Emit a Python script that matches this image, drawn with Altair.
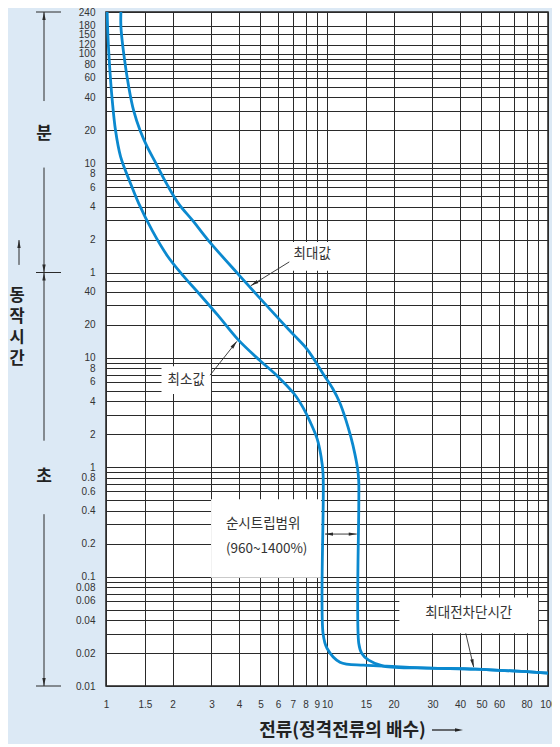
import math
import altair as alt
import pandas as pd

# ---------------- chart values ----------------
# x axis: multiples of rated current (log scale)
X_GRID = [1, 1.5, 2, 3, 4, 5, 6, 7, 8, 9, 10, 15, 20, 30, 40, 50, 60, 70, 80, 90, 100]
X_LABEL_VALUES = [1, 1.5, 2, 3, 4, 5, 6, 7, 8, 9, 10, 15, 20, 30, 40, 50, 60, 80, 100]
X_LABEL_TEXT = ["1", "1.5", "2", "3", "4", "5", "6", "7", "8", "9", "10",
                "15", "20", "30", "40", "50", "60", "80", "100"]

# y axis: operating time in seconds (log scale), labelled in minutes above 1 min
Y_GRID_SEC = [0.01, 0.02, 0.03, 0.04, 0.05, 0.06, 0.07, 0.08, 0.09,
              0.1, 0.2, 0.3, 0.4, 0.5, 0.6, 0.7, 0.8, 0.9,
              1, 2, 3, 4, 5, 6, 7, 8, 9,
              10, 20, 30, 40, 50,
              60, 120, 180, 240, 300, 360, 420, 480, 540,
              600, 1200, 1800, 2400, 3000, 3600, 4200, 4800, 5400,
              6000, 7200, 9000, 10800, 14400]
Y_LABEL_SEC = [14400, 10800, 9000, 7200, 6000, 4800, 3600, 2400, 1200, 600,
               480, 360, 240, 120, 60,
               40, 20, 10, 8, 6, 4, 2, 1, 0.8, 0.6, 0.4, 0.2,
               0.1, 0.08, 0.06, 0.04, 0.02, 0.01]
Y_LABEL_TEXT = ["240", "180", "150", "120", "100", "80", "60", "40", "20", "10",
                "8", "6", "4", "2", "1",
                "40", "20", "10", "8", "6", "4", "2", "1", "0.8", "0.6", "0.4", "0.2",
                "0.1", "0.08", "0.06", "0.04", "0.02", "0.01"]

# maximum curve (최대값): current multiple, time [s]
MAX_X = [1.168, 1.168, 1.204, 1.268, 1.335, 1.428, 1.535, 1.685, 1.877, 2.125,
         2.481, 2.896, 3.990, 6.155, 7.112, 8.135, 9.695, 10.64, 11.44, 12.17,
         12.81, 13.36, 13.77, 13.92, 13.92, 14.35, 15.43, 18.02, 28.96, 47.07, 100]
MAX_T = [14400, 10600, 5906, 2964, 1795, 1182, 846, 593, 391, 257,
         176.5, 118.7, 57.1, 21.8, 15.97, 11.92, 6.92, 5.168, 3.857, 2.704,
         1.895, 1.329, 0.951, 0.740, 0.02456, 0.01993, 0.01722, 0.01519, 0.01457, 0.01427, 0.01312]

# minimum curve (최소값)
MIN_X = [1.012, 1.021, 1.042, 1.064, 1.105, 1.164, 1.291, 1.406, 1.624, 1.897,
         2.237, 2.639, 3.212, 3.949, 4.955, 5.968, 7.112, 7.805, 8.391, 9.020,
         9.400, 9.596, 9.596, 10.0, 11.44, 14.65, 18.58, 28.96, 47.07, 100]
MIN_T = [14400, 8427, 4141, 2405, 1182, 687, 391, 257, 143.2, 85.0,
         55.9, 38.4, 24.3, 14.69, 9.47, 6.78, 4.655, 3.474, 2.59, 1.818,
         1.248, 0.875, 0.0303, 0.02213, 0.01651, 0.0155, 0.01519, 0.01457, 0.01427, 0.01312]

# ---------------- layout / style ----------------
W, H = 442, 674
BG = "#dce9f5"
BLUE = "#0b89cf"
DARK = "#2a2a2a"
X_DOMAIN = [1, 100]
Y_DOMAIN = [0.01, 14400]
PX_X = W / math.log10(X_DOMAIN[1] / X_DOMAIN[0])
PX_Y = H / math.log10(Y_DOMAIN[1] / Y_DOMAIN[0])

UP_HEAD = "M0,0L-0.42,2L0.42,2Z"      # tip at origin, body below
DOWN_HEAD = "M0,0L-0.42,-2L0.42,-2Z"  # tip at origin, body above


def head_angle(x1, t1, x2, t2):
    dx = (math.log10(x2) - math.log10(x1)) * PX_X
    dy = -(math.log10(t2) - math.log10(t1)) * PX_Y
    return math.degrees(math.atan2(dx, -dy)) % 360


def label_expr(values, texts):
    expr = "''"
    for v, t in reversed(list(zip(values, texts))):
        expr = f"datum.value == {v} ? '{t}' : ({expr})"
    return expr


x_scale = alt.Scale(type="log", domain=X_DOMAIN, nice=False)
y_scale = alt.Scale(type="log", domain=Y_DOMAIN, nice=False)

x_axis = alt.Axis(values=X_GRID, labelExpr=label_expr(X_LABEL_VALUES, X_LABEL_TEXT),
                  grid=True, gridColor=DARK, gridWidth=1, gridOpacity=1, ticks=False, domain=False,
                  labelPadding=13, labelFont="Liberation Sans", labelFontSize=10,
                  labelColor="#333333", labelFlush=False, labelOverlap=False, labelBound=False,
                  title="전류(정격전류의 배수)", titleFont="Noto Sans CJK KR",
                  titleFontSize=18, titleFontWeight="bold", titleColor="#222222",
                  titleX=236, titleY=44, titleAlign="center", titleBaseline="middle")
y_axis = alt.Axis(values=Y_GRID_SEC, labelExpr=label_expr(Y_LABEL_SEC, Y_LABEL_TEXT),
                  grid=True, gridColor=DARK, gridWidth=1, gridOpacity=1, ticks=False, domain=False,
                  labelPadding=11, labelFont="Liberation Sans", labelFontSize=10,
                  labelColor="#333333", labelFlush=False, labelOverlap=False, labelBound=False,
                  title=None)

# ---------------- curves ----------------
rows = []
for name, xs, ts in [("최대값", MAX_X, MAX_T), ("최소값", MIN_X, MIN_T)]:
    for i, (xv, tv) in enumerate(zip(xs, ts)):
        rows.append({"series": name, "i": i, "x": xv, "t": tv})
curves = pd.DataFrame(rows)

curve_layer = alt.Chart(curves).mark_line(
    interpolate="catmull-rom", strokeWidth=2.8, color=BLUE, strokeJoin="round"
).encode(
    x=alt.X("x:Q", scale=x_scale, axis=x_axis),
    y=alt.Y("t:Q", scale=y_scale, axis=y_axis),
    detail="series:N",
    order="i:Q",
)

# ---------------- annotations (white boxes, texts, arrows) ----------------
boxes = pd.DataFrame({
    "x": [6.15, 1.783, 2.988, 21.25],
    "x2": [12.29, 2.988, 9.40, 90.2],
    "t": [113.8, 8.36, 0.508, 0.0642],
    "t2": [62.1, 4.66, 0.0975, 0.0303],
})
box_layer = alt.Chart(boxes).mark_rect(color="white").encode(
    x="x:Q", x2="x2:Q", y="t:Q", y2="t2:Q")

notes = pd.DataFrame({
    "x": [8.57, 2.307, 43.8],
    "t": [88.5, 6.24, 0.0460],
    "label": ["최대값", "최소값", "최대전차단시간"],
})
note_layer = alt.Chart(notes).mark_text(
    font="Noto Sans CJK KR", fontSize=13.5, color="#333333", align="center", baseline="middle"
).encode(x="x:Q", y="t:Q", text="label:N")

trip = pd.DataFrame({"x": [3.488], "t": [0.301], "label": ["순시트립범위\n(960~1400%)"]})
trip_layer = alt.Chart(trip).mark_text(
    font="Noto Sans CJK KR", fontSize=13.5, color="#333333", align="left",
    baseline="middle", lineBreak="\n", lineHeight=25
).encode(x="x:Q", y="t:Q", text="label:N")

arrows = pd.DataFrame({
    "x": [6.75, 2.957, 42.45, 9.795],
    "t": [75.0, 6.92, 0.0303, 0.2445],
    "x2": [4.52, 3.91, 46.1, 13.63],
    "t2": [45.4, 14.09, 0.01487, 0.2445],
})
arrow_layer = alt.Chart(arrows).mark_rule(color=DARK, strokeWidth=0.9).encode(
    x="x:Q", x2="x2:Q", y="t:Q", y2="t2:Q")

heads = pd.DataFrame({
    "x": [4.52, 3.91, 46.1, 9.795, 13.63],
    "t": [45.4, 14.09, 0.01487, 0.2445, 0.2445],
    "ang": [head_angle(6.75, 75.0, 4.52, 45.4),
            head_angle(2.957, 6.92, 3.91, 14.09),
            head_angle(42.45, 0.0303, 46.1, 0.01487),
            270.0, 90.0],
})
head_layer = alt.Chart(heads).mark_point(
    shape=UP_HEAD, filled=True, size=64, color=DARK, opacity=1, strokeWidth=0
).encode(x="x:Q", y="t:Q", angle=alt.Angle("ang:Q", scale=None))

# arrow after the x-axis title
title_arrow = alt.Chart(pd.DataFrame({"k": [0]})).mark_rule(color="#222222", strokeWidth=1.3).encode(
    x=alt.value(326), x2=alt.value(352), y=alt.value(H + 44))
title_head = alt.Chart(pd.DataFrame({"k": [0]})).mark_point(
    shape=UP_HEAD, filled=True, size=64, color="#222222", opacity=1, strokeWidth=0, angle=90
).encode(x=alt.value(357), y=alt.value(H + 44))

# ---------------- left side: 분 / 초 scale marker ----------------
left_seg = pd.DataFrame({"t": [14400, 545.6, 60, 0.3713], "t2": [2212, 60, 1.743, 0.01]})
left_seg_layer = alt.Chart(left_seg).mark_rule(color=DARK, strokeWidth=1).encode(
    x=alt.value(-62), y="t:Q", y2="t2:Q")

left_bars = pd.DataFrame({"t": [14400, 60, 0.01]})
left_bar_layer = alt.Chart(left_bars).mark_rule(color=DARK, strokeWidth=1).encode(
    x=alt.value(-70), x2=alt.value(-45), y="t:Q")

up_tips = pd.DataFrame({"t": [14400, 60]})
up_layer = alt.Chart(up_tips).mark_point(
    shape=UP_HEAD, filled=True, size=64, color=DARK, opacity=1, strokeWidth=0
).encode(x=alt.value(-62), y="t:Q")
down_tips = pd.DataFrame({"t": [60, 0.01]})
down_layer = alt.Chart(down_tips).mark_point(
    shape=DOWN_HEAD, filled=True, size=64, color=DARK, opacity=1, strokeWidth=0
).encode(x=alt.value(-62), y="t:Q")

small_arrow = pd.DataFrame({"t": [118.7], "t2": [70.4]})
small_arrow_layer = alt.Chart(small_arrow).mark_rule(color=DARK, strokeWidth=1).encode(
    x=alt.value(-87), y="t:Q", y2="t2:Q")
small_head_layer = alt.Chart(pd.DataFrame({"t": [118.7]})).mark_point(
    shape=UP_HEAD, filled=True, size=64, color=DARK, opacity=1, strokeWidth=0
).encode(x=alt.value(-87), y="t:Q")

unit_labels = pd.DataFrame({"t": [1110, 0.804], "label": ["분", "초"]})
unit_layer = alt.Chart(unit_labels).mark_text(
    font="Noto Sans CJK KR", fontSize=17, fontWeight="bold", color="#222222",
    align="center", baseline="middle"
).encode(x=alt.value(-62), y="t:Q", text="label:N")

op_time = pd.DataFrame({"t": [36.8], "label": ["동\n작\n시\n간"]})
op_layer = alt.Chart(op_time).mark_text(
    font="Noto Sans CJK KR", fontSize=16.5, fontWeight="bold", color="#222222",
    align="center", baseline="middle", lineBreak="\n", lineHeight=21
).encode(x=alt.value(-89), y="t:Q", text="label:N")

chart = alt.layer(
    box_layer,
    curve_layer,
    arrow_layer, head_layer, note_layer, trip_layer,
    title_arrow, title_head,
    left_seg_layer, left_bar_layer, up_layer, down_layer,
    small_arrow_layer, small_head_layer, unit_layer, op_layer,
).properties(
    width=W, height=H,
    padding={"left": 98, "top": 4, "right": 4, "bottom": 58},
    autosize=alt.AutoSizeParams(type="none"),
).configure(
    background=BG,
).configure_view(
    stroke="#222222", strokeWidth=1.5, fill="white",
)

chart.save("out.html", embed_options={"renderer": "svg", "actions": False})
